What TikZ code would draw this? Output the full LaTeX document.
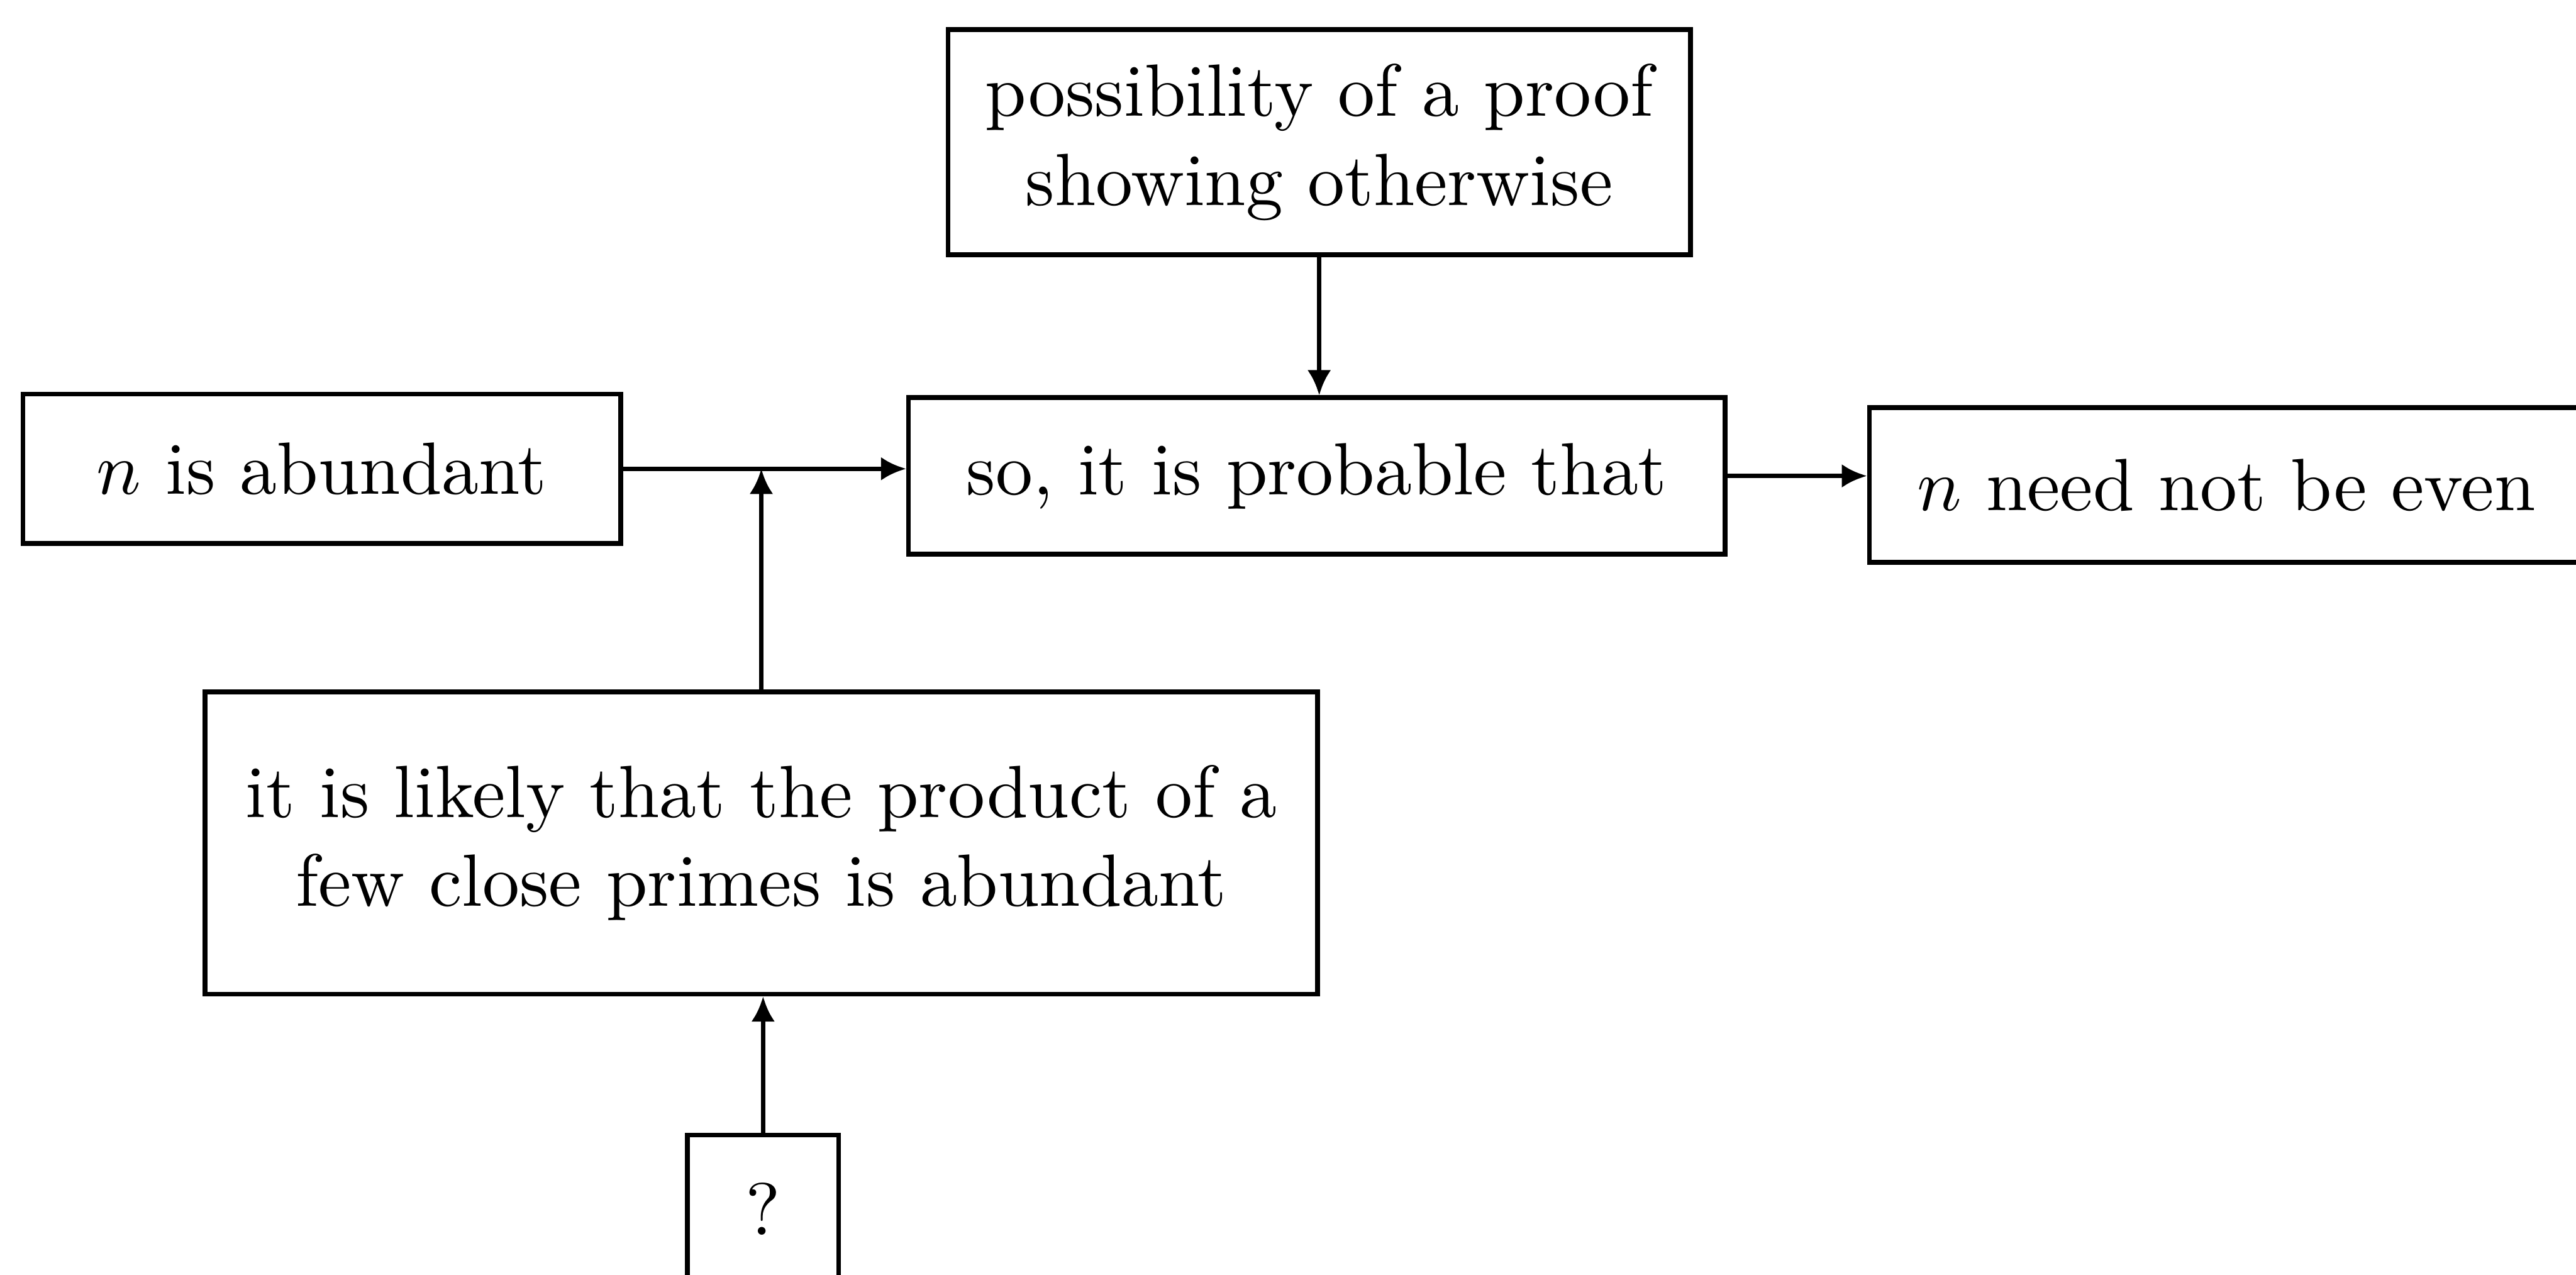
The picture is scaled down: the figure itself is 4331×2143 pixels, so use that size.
\documentclass[tikz,border=0pt]{standalone}
\usetikzlibrary{arrows.meta}
\begin{document}
\begin{tikzpicture}[
  x=0.08032pt, y=-0.08032pt,
  box/.style={draw, line width=0.65pt, inner sep=0pt, align=center},
  link/.style={line width=0.6pt, -{Latex[length=3.4pt,width=3.2pt]}}
]
% page frame
\clip (0,0) rectangle (4331,2143);

% boxes
\node[box, minimum width=100.24pt, minimum height=30.36pt] (proof) at (2218,239)
  {possibility of a proof\\showing otherwise};
\node[box, minimum width=80.72pt, minimum height=20.16pt] (abundant) at (541,788)
  {$n$ is abundant};
\node[box, minimum width=110.28pt, minimum height=21.12pt] (probable) at (2214,800)
  {so, it is probable that};
\node[box, minimum width=96.4pt, minimum height=20.88pt] (neednot) at (3743,815)
  {$n$ need not be even};
\node[box, minimum width=150.2pt, minimum height=40.8pt] (likely) at (1280,1417)
  {it is likely that the product of a\\few close primes is abundant};
\node[box, minimum width=20.4pt, minimum height=19.92pt] (unknown) at (1283,2032)
  {?};

% connectors
\draw[link] (abundant.east) -- (abundant.east -| probable.west);
\draw[link] (likely.north) -- (likely.north |- abundant.east);
\draw[link] (proof.south) -- (proof.south |- probable.north);
\draw[link] (probable.east) -- (probable.east -| neednot.west);
\draw[link] (unknown.north) -- (unknown.north |- likely.south);
\end{tikzpicture}
\end{document}
